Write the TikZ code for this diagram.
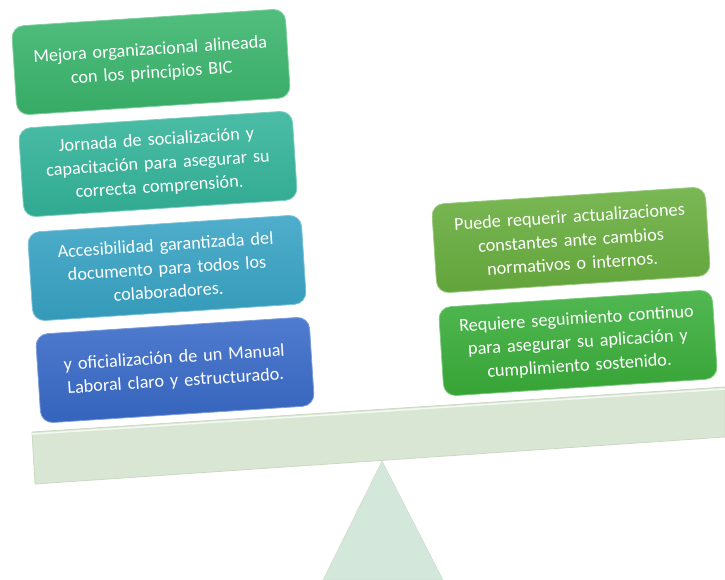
\documentclass[tikz,border=0pt]{standalone}
\usepackage{fontspec}
\setmainfont{Carlito}
\usetikzlibrary{shapes.geometric}
\definecolor{cA}{HTML}{3AB56C}
\definecolor{cB}{HTML}{33B49A}
\definecolor{cC}{HTML}{37A3C4}
\definecolor{cD}{HTML}{386AC8}
\definecolor{cE}{HTML}{68AE3E}
\definecolor{cF}{HTML}{3AAE3A}
\definecolor{beam}{HTML}{DAE6D4}
\definecolor{beamedge}{HTML}{C9D9C2}
\definecolor{fulc}{HTML}{D3E8DB}
\tikzset{
  card/.style={rectangle, rounded corners=12pt, minimum width=274pt, minimum height=89pt,
    text width=262pt, align=center, text=white, rotate=3.7,
    font=\fontsize{18.2}{23.5}\selectfont, inner sep=0pt,
    top color=#1!88!white, bottom color=#1!94!black, draw=#1!65!white, line width=0.8pt},
}
\begin{document}
\begin{tikzpicture}[x=1pt,y=-1pt]
\useasboundingbox (0,0) rectangle (725,580);
% fulcrum
\path[fill=fulc, draw=fulc!85!gray, line width=0.4pt]
  (382,461) coordinate (apex) -- (443,580) coordinate (bR) -- (323,580) coordinate (bL) -- cycle;
% beam
\path[fill=beam, draw=beamedge, line width=0.8pt]
  (32,432) coordinate (b1) -- (725,387) coordinate (b2) -- (725,437) coordinate (b3) -- (35,484) coordinate (b4) -- cycle;
\draw[white!70!beam, line width=1.5pt] ([yshift=-2pt]b1) -- ([yshift=-2pt]b2);
% left cards
\node[card=cA] (n1) at (151,62) {Mejora organizacional alineada\\con los principios BIC};
\node[card=cB] (n2) at (158,164) {Jornada de socialización y\\capacitación para asegurar su\\correcta comprensión.};
\node[card=cC] (n3) at (167,268) {Accesibilidad garantizada del\\documento para todos los\\colaboradores.};
\node[card=cD] (n4) at (175,370) {y oficialización de un Manual\\Laboral claro y estructurado.};
% right cards
\node[card=cE] (n5) at (571,240) {Puede requerir actualizaciones\\constantes ante cambios\\normativos o internos.};
\node[card=cF] (n6) at (578,343) {Requiere seguimiento continuo\\para asegurar su aplicación y\\cumplimiento sostenido.};
\end{tikzpicture}
\end{document}
